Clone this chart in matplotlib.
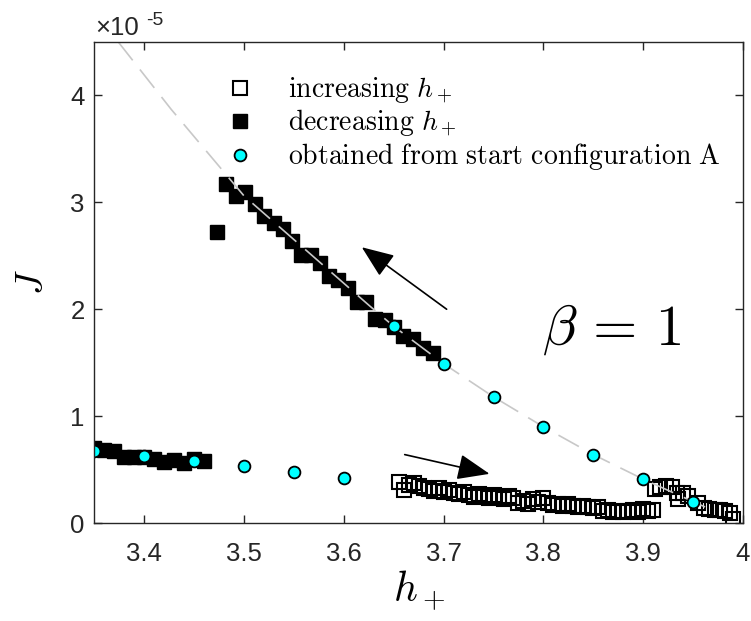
import numpy as np
import matplotlib
matplotlib.use('Agg')
import matplotlib.pyplot as plt
from matplotlib.ticker import FuncFormatter

plt.rcParams['mathtext.fontset'] = 'cm'
plt.rcParams['font.family'] = ['Liberation Sans', 'DejaVu Sans']

# J values are read in units of 1e-5
SCALE = 1e-5

# increasing h+ (open squares)
h_inc = [3.655, 3.66, 3.665, 3.67, 3.675, 3.68, 3.685, 3.69, 3.695, 3.70,
         3.705, 3.71, 3.715, 3.72, 3.725, 3.73, 3.735, 3.74, 3.745, 3.75,
         3.755, 3.76, 3.765, 3.77, 3.775, 3.78, 3.785, 3.79, 3.795, 3.80,
         3.805, 3.81, 3.815, 3.82, 3.825, 3.83, 3.835, 3.84, 3.845, 3.85,
         3.855, 3.86, 3.865, 3.87, 3.875, 3.88, 3.885, 3.89, 3.895, 3.90,
         3.905, 3.91,
         3.912, 3.917, 3.923, 3.929, 3.934, 3.935, 3.94, 3.945, 3.955, 3.961,
         3.966, 3.972, 3.977, 3.982, 3.987, 3.99]
j_inc = [0.38, 0.31, 0.36, 0.37, 0.35, 0.33, 0.32, 0.30, 0.33, 0.29,
         0.31, 0.28, 0.27, 0.29, 0.26, 0.24, 0.27, 0.25, 0.23, 0.26,
         0.24, 0.22, 0.25, 0.23, 0.19, 0.21, 0.18, 0.22, 0.20, 0.23,
         0.19, 0.17, 0.18, 0.16, 0.18, 0.16, 0.15, 0.16, 0.15, 0.14,
         0.15, 0.11, 0.12, 0.10, 0.11, 0.10, 0.11, 0.12, 0.10, 0.13,
         0.11, 0.12,
         0.32, 0.34, 0.35, 0.34, 0.28, 0.22, 0.28, 0.25, 0.19, 0.14,
         0.13, 0.125, 0.125, 0.11, 0.09, 0.04]

# decreasing h+ (filled squares)
h_dec = [3.35, 3.36, 3.37, 3.38, 3.39, 3.40, 3.41, 3.42, 3.43, 3.44, 3.45, 3.46,
         3.473, 3.482, 3.492, 3.501, 3.511, 3.520, 3.530, 3.539, 3.548, 3.557,
         3.567, 3.576, 3.585, 3.594, 3.604, 3.613, 3.622, 3.631, 3.641, 3.650,
         3.659, 3.669, 3.679, 3.689]
j_dec = [0.70, 0.68, 0.67, 0.62, 0.62, 0.62, 0.60, 0.57, 0.59, 0.56, 0.60, 0.58,
         2.72, 3.17, 3.06, 3.10, 2.98, 2.87, 2.81, 2.75, 2.64, 2.51,
         2.51, 2.43, 2.31, 2.27, 2.20, 2.07, 2.07, 1.91, 1.90, 1.83,
         1.75, 1.72, 1.64, 1.59]

# start configuration A (cyan circles)
h_A = [3.35, 3.40, 3.45, 3.50, 3.55, 3.60, 3.65, 3.70, 3.75, 3.80, 3.85, 3.90, 3.95]
j_A = [0.675, 0.63, 0.58, 0.53, 0.48, 0.42, 1.84, 1.49, 1.18, 0.90, 0.64, 0.41, 0.20]

# dashed guide curve
h_fit = [3.374, 3.427, 3.50, 3.626, 3.65, 3.70, 3.75, 3.80, 3.85, 3.90, 3.95, 3.962]
j_fit = [4.50, 3.87, 3.06, 2.03, 1.84, 1.49, 1.18, 0.90, 0.64, 0.41, 0.20, 0.15]

fig = plt.figure(figsize=(7.51, 6.21), dpi=100)
ax = fig.add_axes([0.1256, 0.1578, 0.8638, 0.7746])

axcol = '#262626'

inc, = ax.plot(h_inc, np.array(j_inc) * SCALE, 's', ls='none', ms=9.5,
               mfc='none', mec='black', mew=1.5, label=r'$\mathrm{increasing}\ h_+$')
dec, = ax.plot(h_dec, np.array(j_dec) * SCALE, 's', ls='none', ms=10,
               mfc='black', mec='black', mew=1, label=r'$\mathrm{decreasing}\ h_+$')
ax.plot(h_fit, np.array(j_fit) * SCALE, ls=(0, (14, 7)), color='#c8c8c8', lw=1.2)
ca, = ax.plot(h_A, np.array(j_A) * SCALE, 'o', ls='none', ms=8.5,
              mfc='cyan', mec='black', mew=1.3,
              label=r'$\mathrm{obtained\ from\ start\ configuration\ A}$')

ax.set_xlim(3.35, 4.0)
ax.set_ylim(0, 4.5e-5)
ax.set_xticks([3.4, 3.5, 3.6, 3.7, 3.8, 3.9, 4.0])
ax.set_xticklabels(['3.4', '3.5', '3.6', '3.7', '3.8', '3.9', '4'])
ax.set_yticks(np.array([0, 1, 2, 3, 4]) * SCALE)
ax.yaxis.set_major_formatter(FuncFormatter(lambda v, p: '%g' % round(v / SCALE, 6)))

ax.tick_params(direction='in', top=True, right=True, length=6, width=1,
               colors=axcol, labelsize=18.5)
ax.tick_params(axis='x', pad=14)
ax.tick_params(axis='y', pad=7)
for s in ax.spines.values():
    s.set_color(axcol)
    s.set_linewidth(1)

ax.set_xlabel(r'$h_+$', fontsize=30, labelpad=2)
ax.set_ylabel(r'$J$', fontsize=27, labelpad=14)

# exponent label
ax.annotate('\u00d710', xy=(0, 1), xycoords='axes fraction', xytext=(1, 5),
            textcoords='offset points', fontsize=18.5, color=axcol,
            ha='left', va='baseline')
ax.annotate('-5', xy=(0, 1), xycoords='axes fraction', xytext=(37, 12.5),
            textcoords='offset points', fontsize=14, color=axcol,
            ha='left', va='baseline')

# arrows
ax.annotate('', xy=(3.618, 2.58 * SCALE), xytext=(3.703, 2.00 * SCALE),
            arrowprops=dict(arrowstyle='-|>,head_length=2.0,head_width=0.8',
                            mutation_scale=10, color='black', lw=1.2,
                            shrinkA=0, shrinkB=0))
ax.annotate('', xy=(3.746, 0.46 * SCALE), xytext=(3.661, 0.64 * SCALE),
            arrowprops=dict(arrowstyle='-|>,head_length=2.0,head_width=0.8',
                            mutation_scale=10, color='black', lw=1.2,
                            shrinkA=0, shrinkB=0))

ax.text(3.868, 1.67 * SCALE, r'$\beta\,=\,1$', fontsize=41, ha='center', va='baseline')

ax.legend(handles=[inc, dec, ca], loc='upper left', bbox_to_anchor=(0.203, 0.93),
          frameon=False, fontsize=20, handlelength=1.0, handletextpad=1.22,
          borderpad=0, borderaxespad=0, labelspacing=0.08)

fig.savefig('out.png', dpi=100)
